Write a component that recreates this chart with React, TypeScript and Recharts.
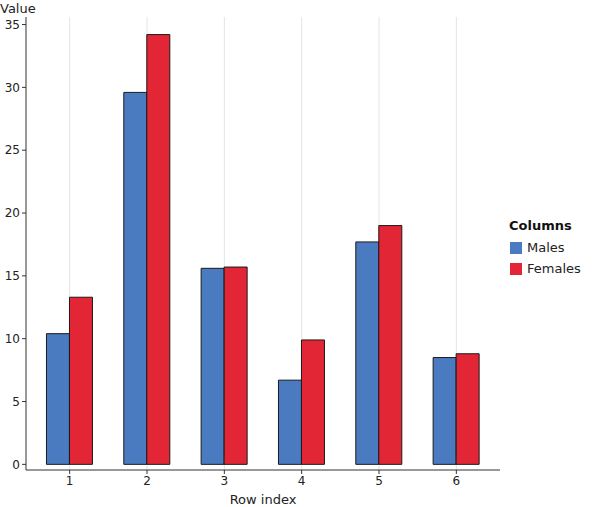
import { BarChart, Bar, XAxis, YAxis, CartesianGrid } from "recharts";

const rowIndex = ["1", "2", "3", "4", "5", "6"];
const males = [10.4, 29.6, 15.6, 6.7, 17.7, 8.5];
const females = [13.3, 34.2, 15.7, 9.9, 19.0, 8.8];
const yTicks = [0, 5, 10, 15, 20, 25, 30, 35];

const BLUE = "#4a7bc1";
const RED = "#e22636";
const FONT = "'DejaVu Sans', Verdana, sans-serif";
const INK = "#222";
const X_PAD = 5;

const data = rowIndex.map((row, i) => ({
  row,
  Males: males[i],
  Females: females[i],
}));

const series = [
  { key: "Males", color: BLUE },
  { key: "Females", color: RED },
];

// vertical grid lines only at the category centres
const gridAtCategories = (props: any) => {
  const scale = props?.xAxis?.scale;
  try {
    if (typeof scale === "function") {
      const half = scale.bandwidth ? scale.bandwidth() / 2 : 0;
      return rowIndex.map((r) => scale(r) + half);
    }
    if (scale && typeof scale.map === "function") {
      return rowIndex.map((r) => scale.map(r, { position: "middle" }));
    }
  } catch (e) {
    // fall through to the offset-based layout
  }
  const off = props?.offset ?? { left: 0, width: 0 };
  const band = (off.width - 2 * X_PAD) / rowIndex.length;
  return rowIndex.map((_, i) => off.left + X_PAD + band * (i + 0.5));
};

export default function App() {
  return (
    <div
      style={{
        position: "absolute",
        left: 0,
        top: 0,
        width: 600,
        height: 507,
        fontFamily: FONT,
        background: "#fff",
      }}
    >
      <BarChart
        width={600}
        height={507}
        data={data}
        margin={{ top: 17, right: 100, bottom: 0, left: 0 }}
        barCategoryGap="20%"
        barGap={0}
      >
        <CartesianGrid
          horizontal={false}
          stroke="#e4e4e4"
          verticalCoordinatesGenerator={gridAtCategories}
        />
        <XAxis
          dataKey="row"
          height={37}
          padding={{ left: X_PAD, right: X_PAD }}
          stroke="#333"
          tickSize={4}
          tickMargin={2}
          tick={{ fill: INK, fontSize: 12, fontFamily: FONT }}
          label={{
            value: "Row index",
            position: "insideBottom",
            offset: 3,
            fill: INK,
            fontSize: 13,
            fontFamily: FONT,
          }}
        />
        <YAxis
          width={26}
          domain={[-0.45, 35.6]}
          ticks={yTicks}
          interval={0}
          stroke="#333"
          tickSize={4}
          tickMargin={2}
          tick={{ fill: INK, fontSize: 12, fontFamily: FONT }}
          label={{
            content: ({ viewBox }: any) => (
              <text
                x={0}
                y={(viewBox?.y ?? 17) - 4}
                fill={INK}
                fontSize={13}
                fontFamily={FONT}
              >
                Value
              </text>
            ),
          }}
        />
        {series.map((s) => (
          <Bar
            key={s.key}
            dataKey={s.key}
            fill={s.color}
            stroke="#1a1a1a"
            strokeWidth={1}
            isAnimationActive={false}
          />
        ))}
      </BarChart>

      {/* Legend */}
      <div
        style={{
          position: "absolute",
          left: 509,
          top: 218,
          color: INK,
          fontSize: 13,
          lineHeight: "16px",
        }}
      >
        <div style={{ fontWeight: "bold", color: "#111", marginBottom: 3 }}>
          Columns
        </div>
        {series.map((s) => (
          <div
            key={s.key}
            style={{
              display: "flex",
              alignItems: "center",
              height: 21,
              marginLeft: 1,
            }}
          >
            <div
              style={{
                width: 12,
                height: 12,
                background: s.color,
                marginRight: 5,
              }}
            />
            <span>{s.key}</span>
          </div>
        ))}
      </div>
    </div>
  );
}
